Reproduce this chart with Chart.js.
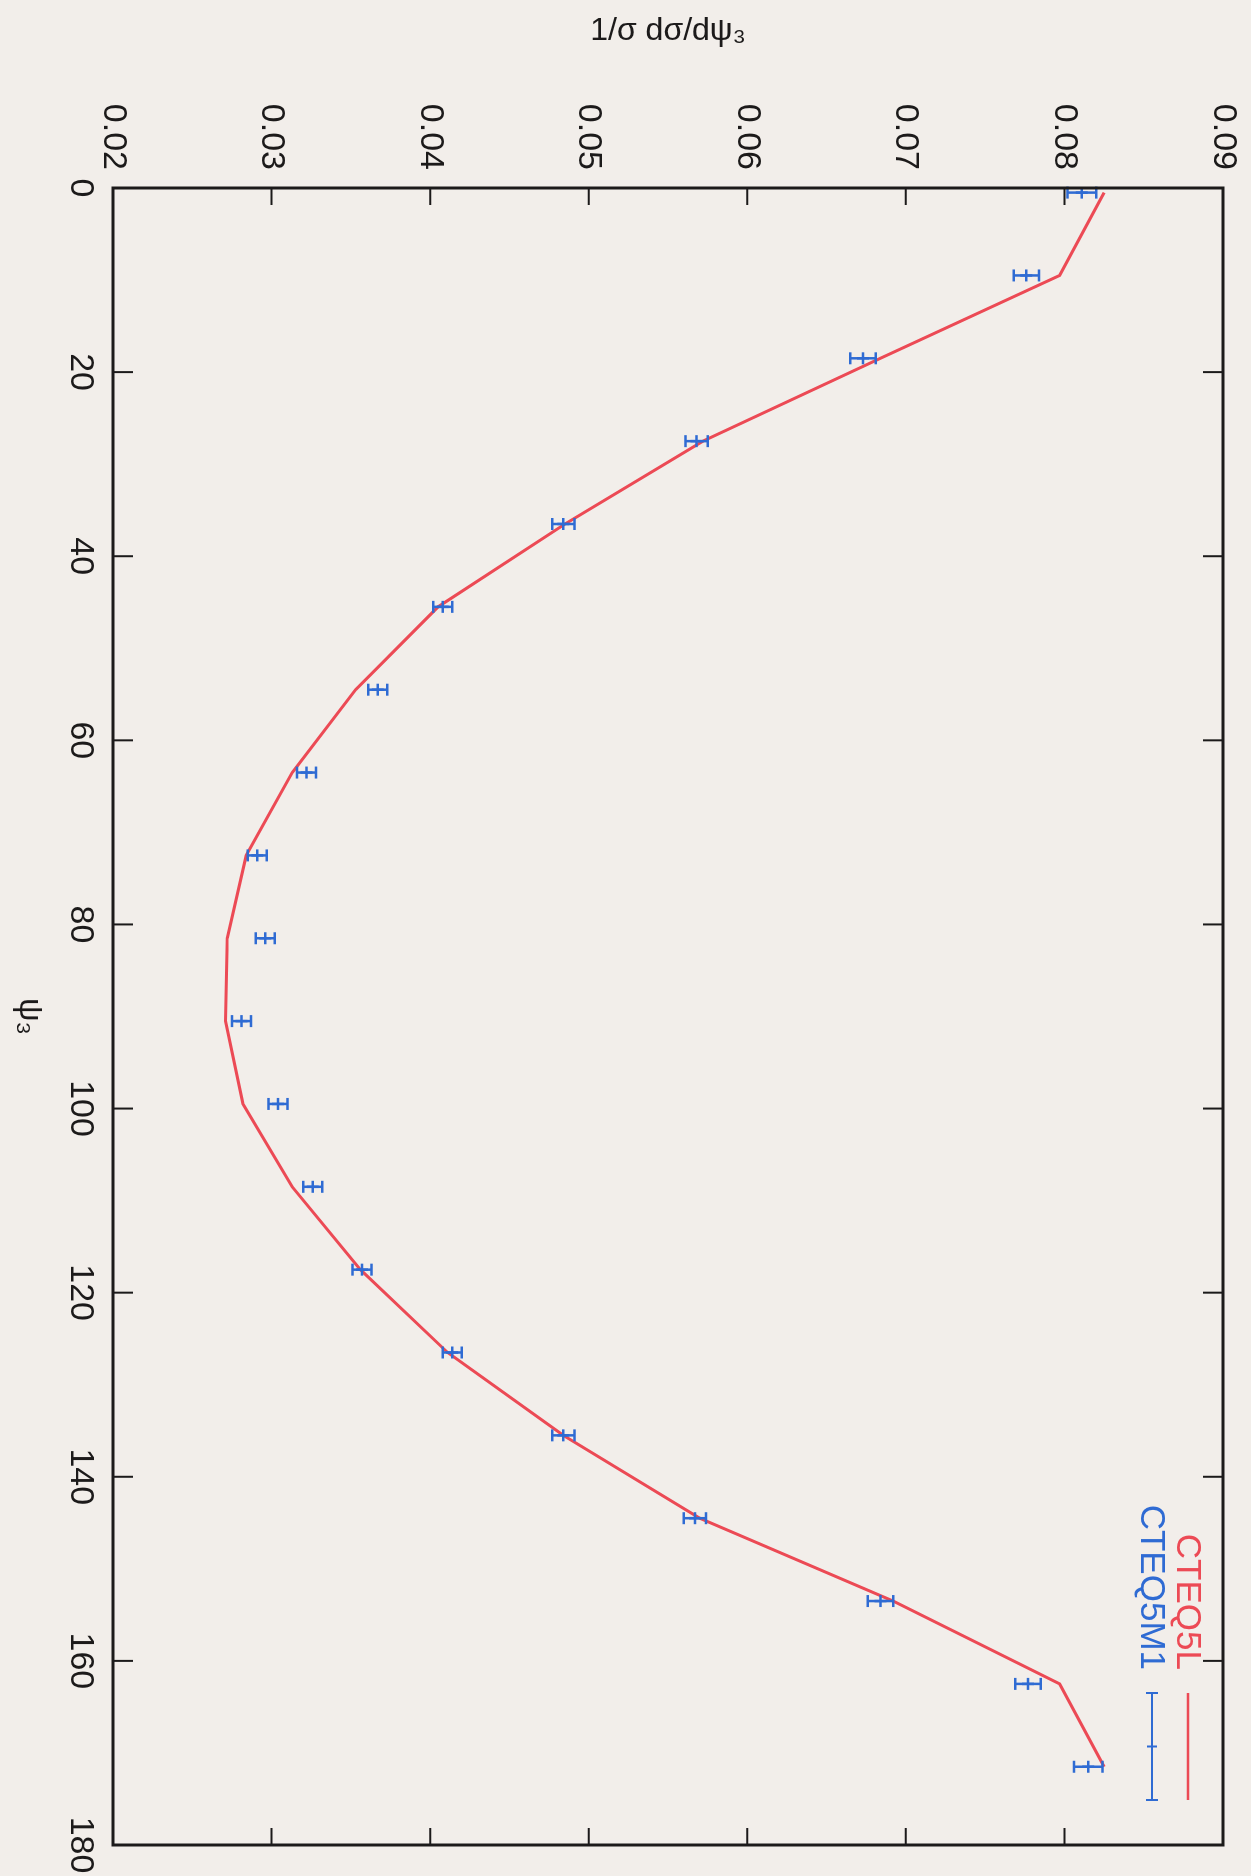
<!DOCTYPE html>
<html>
<head>
<meta charset="utf-8">
<script src="https://cdn.jsdelivr.net/npm/chart.js@4.4.1/dist/chart.umd.min.js"></script>
<style>
  html, body { margin: 0; padding: 0; background: #f2eeea; overflow: hidden; }
  body { width: 1251px; height: 1876px; position: relative; }
  /* gnuplot landscape page, turned a quarter clockwise */
  #psiChart {
    position: absolute; left: 0; top: 0;
    transform-origin: 0 0;
    transform: translateX(1251px) rotate(90deg);
  }
</style>
</head>
<body>
<canvas id="psiChart" width="1876" height="1251"></canvas>
<script>

// -------------------------
//      DATA
// -------------------------

const PSI = [0.5, 9.5, 18.5, 27.5, 36.5, 45.5, 54.5, 63.5, 72.5, 81.5,
             90.5, 99.5, 108.5, 117.5, 126.5, 135.5, 144.5, 153.5, 162.5, 171.5];

const CTEQ5L = [0.0825, 0.0797, 0.0684, 0.0572, 0.0485, 0.0405, 0.0353, 0.0313, 0.0284, 0.0272,
                0.0271, 0.0282, 0.0313, 0.0356, 0.0411, 0.0484, 0.0570, 0.0692, 0.0797, 0.0825];

const CTEQ5M1 = [0.0811, 0.0776, 0.0673, 0.0568, 0.0484, 0.0408, 0.0367, 0.0322, 0.0291, 0.0296,
                 0.0281, 0.0304, 0.0326, 0.0357, 0.0414, 0.0484, 0.0567, 0.0684, 0.0777, 0.0815];

const CTEQ5M1_ERR = [0.0009, 0.0008, 0.0008, 0.0007, 0.0007, 0.0006, 0.0006, 0.0006, 0.0006, 0.0006,
                     0.0006, 0.0006, 0.0006, 0.0006, 0.0006, 0.0007, 0.0007, 0.0008, 0.0008, 0.0009];

const PSI_TICKS = [0, 20, 40, 60, 80, 100, 120, 140, 160, 180];
const VALUE_TICKS = [0.02, 0.03, 0.04, 0.05, 0.06, 0.07, 0.08, 0.09];

// -------------------------

const RED = "#ec4a55";
const BLUE = "#2f6bd3";
const INK = "#1c1a1a";
const FONT = "'Liberation Sans', Arial, Helvetica, sans-serif";

// frame + inward ticks on all four sides (gnuplot style)
const framePlugin = {
    id: "frame",
    afterDraw(chart) {
        const { ctx, chartArea: a, scales } = chart;
        ctx.save();
        ctx.strokeStyle = INK;
        ctx.lineWidth = 2;
        for (const v of PSI_TICKS) {
            const x = scales.x.getPixelForValue(v);
            ctx.beginPath();
            ctx.moveTo(x, a.bottom); ctx.lineTo(x, a.bottom - 20);
            ctx.moveTo(x, a.top); ctx.lineTo(x, a.top + 20);
            ctx.stroke();
        }
        for (const v of VALUE_TICKS) {
            const y = scales.y.getPixelForValue(v);
            ctx.beginPath();
            ctx.moveTo(a.left, y); ctx.lineTo(a.left + 17, y);
            ctx.moveTo(a.right, y); ctx.lineTo(a.right - 17, y);
            ctx.stroke();
        }
        ctx.lineWidth = 3;
        ctx.strokeRect(a.left, a.top, a.right - a.left, a.bottom - a.top);
        ctx.restore();
    }
};

// error bars for the CTEQ5M1 points
const errorBarPlugin = {
    id: "errorBars",
    afterDatasetsDraw(chart) {
        const { ctx, scales } = chart;
        const cap = 6;
        ctx.save();
        ctx.strokeStyle = BLUE;
        ctx.lineWidth = 2.5;
        PSI.forEach((p, i) => {
            const x = scales.x.getPixelForValue(p);
            const y0 = scales.y.getPixelForValue(CTEQ5M1[i] - CTEQ5M1_ERR[i]);
            const y1 = scales.y.getPixelForValue(CTEQ5M1[i] + CTEQ5M1_ERR[i]);
            ctx.beginPath();
            ctx.moveTo(x, y0); ctx.lineTo(x, y1);
            ctx.moveTo(x - cap, y0); ctx.lineTo(x + cap, y0);
            ctx.moveTo(x - cap, y1); ctx.lineTo(x + cap, y1);
            ctx.stroke();
        });
        ctx.restore();
    }
};

// key in the top right corner: text right-aligned, sample after it
const keyPlugin = {
    id: "key",
    afterDraw(chart) {
        const { ctx } = chart;
        const textRight = 1670, x0 = 1693, x1 = 1800;
        ctx.save();
        ctx.font = "35px " + FONT;
        ctx.textAlign = "right";
        ctx.textBaseline = "middle";

        ctx.fillStyle = RED;
        ctx.fillText(chart.data.datasets[0].label, textRight, 64);
        ctx.strokeStyle = RED;
        ctx.lineWidth = 2.5;
        ctx.beginPath(); ctx.moveTo(x0, 63); ctx.lineTo(x1, 63); ctx.stroke();

        ctx.fillStyle = BLUE;
        ctx.fillText(chart.data.datasets[1].label, textRight, 100);
        ctx.strokeStyle = BLUE;
        ctx.lineWidth = 2;
        ctx.beginPath();
        ctx.moveTo(x0, 99); ctx.lineTo(x1, 99);
        ctx.moveTo(x0, 93); ctx.lineTo(x0, 105);
        ctx.moveTo(x1, 93); ctx.lineTo(x1, 105);
        ctx.moveTo((x0 + x1) / 2, 94); ctx.lineTo((x0 + x1) / 2, 104);
        ctx.stroke();
        ctx.restore();
    }
};

const ctx = document.getElementById("psiChart").getContext("2d");

new Chart(ctx, {
    type: "line",
    data: {
        datasets: [
            {
                label: "CTEQ5L",
                data: PSI.map((p, i) => ({ x: p, y: CTEQ5L[i] })),
                borderColor: RED,
                borderWidth: 3,
                backgroundColor: "transparent",
                pointRadius: 0,
                tension: 0,
                order: 2
            },
            {
                label: "CTEQ5M1",
                data: PSI.map((p, i) => ({ x: p, y: CTEQ5M1[i] })),
                showLine: false,
                pointStyle: "cross",
                pointRadius: 6,
                pointBorderWidth: 2.5,
                pointBorderColor: BLUE,
                pointBackgroundColor: BLUE,
                order: 1
            }
        ]
    },
    options: {
        responsive: false,
        animation: false,
        devicePixelRatio: 1,
        layout: { padding: { top: 28, right: 31, left: 0, bottom: 0 } },
        plugins: { legend: { display: false }, tooltip: { enabled: false } },
        scales: {
            x: {
                type: "linear",
                position: "bottom",
                min: 0, max: 180,
                afterBuildTicks: s => { s.ticks = PSI_TICKS.map(v => ({ value: v })); },
                afterFit: s => { s.height = 113; s.paddingLeft = 0; s.paddingRight = 0; },
                grid: { display: false, drawTicks: false },
                border: { display: false },
                ticks: {
                    autoSkip: false, minRotation: 0, maxRotation: 0,
                    padding: 12, color: INK,
                    font: { size: 34, family: FONT }
                },
                title: {
                    display: true, text: "ψ₃", color: INK,
                    font: { size: 33, family: FONT },
                    padding: { top: 0, bottom: 9 }
                }
            },
            y: {
                type: "linear",
                position: "left",
                min: 0.02, max: 0.09,
                afterBuildTicks: s => { s.ticks = VALUE_TICKS.map(v => ({ value: v })); },
                afterFit: s => { s.width = 188; s.paddingTop = 0; s.paddingBottom = 0; },
                grid: { display: false, drawTicks: false },
                border: { display: false },
                ticks: {
                    autoSkip: false, padding: 18, color: INK,
                    font: { size: 34, family: FONT },
                    callback: v => v.toFixed(2)
                },
                title: {
                    display: true, text: "1/σ dσ/dψ₃", color: INK,
                    font: { size: 32, family: FONT },
                    padding: { top: 12, bottom: 0 }
                }
            }
        }
    },
    plugins: [framePlugin, errorBarPlugin, keyPlugin]
});
</script>
</body>
</html>
